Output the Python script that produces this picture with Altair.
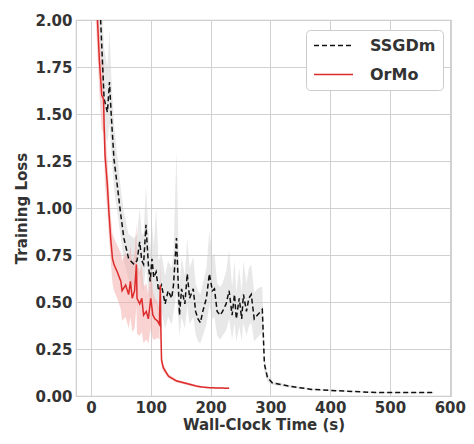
import altair as alt
import pandas as pd

# SSGDm (black dashed) mean and band
ss_x = [12, 22, 27.5, 31, 34, 38.5, 44, 50, 55, 63, 72, 77, 81.5, 85, 88, 92, 96, 99, 102, 105,
        109, 113, 118, 124, 129, 135, 138, 143, 148, 151.5, 157, 161, 165, 171, 175, 179, 183, 187,
        193, 198, 203, 206.5, 211, 216, 220, 226, 231, 236, 240, 243, 248, 252, 255, 260, 264, 268,
        273, 278, 284, 286.5, 288, 290, 295, 303, 330, 369, 424, 479, 573]
ss_y = [2.30, 1.58, 1.51, 1.67, 1.49, 1.26, 1.12, 0.96, 0.84, 0.73, 0.70, 0.72, 0.82, 0.72, 0.70, 0.91, 0.70, 0.61, 0.73, 0.63,
        0.66, 0.56, 0.59, 0.49, 0.56, 0.52, 0.59, 0.84, 0.43, 0.57, 0.49, 0.65, 0.52, 0.57, 0.45, 0.41, 0.39, 0.45,
        0.52, 0.65, 0.56, 0.57, 0.45, 0.43, 0.45, 0.49, 0.56, 0.43, 0.54, 0.41, 0.52, 0.41, 0.54, 0.45, 0.52, 0.54,
        0.41, 0.43, 0.45, 0.46, 0.34, 0.17, 0.10, 0.07, 0.053, 0.035, 0.026, 0.018, 0.018]
ss_lo = [2.10, 1.40, 1.35, 1.45, 1.30, 1.10, 0.98, 0.84, 0.72, 0.62, 0.58, 0.60, 0.66, 0.58, 0.56, 0.70, 0.55, 0.47, 0.56, 0.48,
         0.50, 0.42, 0.45, 0.36, 0.42, 0.38, 0.44, 0.55, 0.32, 0.42, 0.36, 0.48, 0.38, 0.42, 0.33, 0.29, 0.28, 0.32,
         0.38, 0.48, 0.41, 0.42, 0.32, 0.30, 0.32, 0.35, 0.41, 0.30, 0.39, 0.29, 0.37, 0.29, 0.39, 0.32, 0.37, 0.39,
         0.29, 0.31, 0.33, 0.34, 0.26, 0.13, 0.08, 0.06, 0.045, 0.030, 0.022, 0.015, 0.015]
ss_hi = [2.50, 1.85, 1.75, 1.95, 1.70, 1.45, 1.28, 1.10, 0.98, 0.86, 0.84, 0.86, 1.00, 0.86, 0.86, 1.12, 0.88, 0.78, 0.92, 0.80,
         1.00, 0.72, 0.76, 0.64, 0.72, 0.68, 0.76, 1.30, 0.58, 0.74, 0.64, 0.84, 0.68, 0.74, 0.60, 0.56, 0.54, 0.60,
         0.68, 0.88, 0.74, 0.76, 0.60, 0.58, 0.60, 0.66, 0.78, 0.58, 0.72, 0.55, 0.68, 0.55, 0.72, 0.60, 0.68, 0.70,
         0.55, 0.57, 0.58, 0.58, 0.42, 0.21, 0.12, 0.08, 0.060, 0.040, 0.030, 0.021, 0.021]

# OrMo (red solid) mean and band
or_x = [8, 14, 18, 21, 22, 23.5, 27.5, 30, 33, 36, 38.5, 44, 50, 52, 58, 63, 66, 69, 73, 76,
        77, 81.5, 85, 88, 92.5, 96, 100, 103.5, 107, 111, 114.5, 116, 117, 118, 121, 129.5, 143, 165,
        176, 185, 198, 231]
or_y = [2.20, 1.79, 1.60, 1.58, 1.44, 1.28, 1.12, 0.98, 0.84, 0.73, 0.70, 0.66, 0.61, 0.56, 0.59, 0.54, 0.61, 0.52, 0.56, 0.70,
        0.52, 0.49, 0.52, 0.43, 0.45, 0.41, 0.52, 0.43, 0.41, 0.40, 0.38, 0.59, 0.34, 0.19, 0.15, 0.106, 0.08, 0.062,
        0.053, 0.048, 0.044, 0.041]
or_lo = [2.00, 1.62, 1.42, 1.40, 1.28, 1.12, 0.98, 0.85, 0.72, 0.60, 0.56, 0.52, 0.46, 0.40, 0.42, 0.36, 0.42, 0.34, 0.36, 0.48,
         0.33, 0.32, 0.34, 0.28, 0.30, 0.28, 0.36, 0.30, 0.30, 0.31, 0.30, 0.45, 0.27, 0.16, 0.13, 0.095, 0.072, 0.055,
         0.047, 0.043, 0.040, 0.037]
or_hi = [2.40, 1.96, 1.78, 1.76, 1.60, 1.44, 1.26, 1.11, 0.96, 0.86, 0.84, 0.80, 0.76, 0.72, 0.76, 0.72, 0.80, 0.70, 0.76, 0.92,
         0.70, 0.66, 0.70, 0.58, 0.60, 0.54, 0.68, 0.56, 0.52, 0.50, 0.46, 0.72, 0.42, 0.22, 0.17, 0.117, 0.088, 0.069,
         0.059, 0.053, 0.048, 0.045]

ss_df = pd.DataFrame({"series": "SSGDm", "x": ss_x, "y": ss_y, "lo": ss_lo, "hi": ss_hi, "ord": list(range(len(ss_x)))})
or_df = pd.DataFrame({"series": "OrMo", "x": or_x, "y": or_y, "lo": or_lo, "hi": or_hi, "ord": list(range(len(or_x)))})
df = pd.concat([ss_df, or_df], ignore_index=True)

font = "DejaVu Sans"
xs = alt.Scale(domain=[-25, 602], nice=False, zero=False)
ys = alt.Scale(domain=[0, 2], nice=False, zero=False)

band_ss = alt.Chart(ss_df).mark_area(color="#cccccc", opacity=0.45, clip=True, interpolate="linear").encode(
    x=alt.X("x:Q", scale=xs), y=alt.Y("lo:Q", scale=ys), y2=alt.Y2("hi:Q"))
band_or = alt.Chart(or_df).mark_area(color="#f4a6a6", opacity=0.5, clip=True, interpolate="linear").encode(
    x=alt.X("x:Q", scale=xs), y=alt.Y("lo:Q", scale=ys), y2=alt.Y2("hi:Q"))

lines = alt.Chart(df).mark_line(strokeWidth=1.5, clip=True).encode(
    x=alt.X("x:Q", scale=xs, title="Wall-Clock Time (s)",
            axis=alt.Axis(values=[0, 100, 200, 300, 400, 500, 600], labelPadding=4, titlePadding=2)),
    y=alt.Y("y:Q", scale=ys, title="Training Loss",
            axis=alt.Axis(values=[0, 0.25, 0.5, 0.75, 1.0, 1.25, 1.5, 1.75, 2.0], format=".2f",
                          labelPadding=4, titlePadding=5)),
    color=alt.Color("series:N", scale=alt.Scale(domain=["SSGDm", "OrMo"], range=["#111111", "#dd2a2a"]),
                    legend=alt.Legend(title=None, orient="none", legendX=230, legendY=10,
                                      symbolType="M-2.6,0H2.6", symbolSize=225, symbolStrokeWidth=1.5,
                                      symbolOffset=12,
                                      labelFontSize=16, labelFont=font, labelFontWeight="bold",
                                      labelColor="#333333", padding=7, rowPadding=12,
                                      strokeColor="#cccccc", fillColor="white", cornerRadius=4,
                                      labelOffset=28)),
    strokeDash=alt.StrokeDash("series:N", scale=alt.Scale(domain=["SSGDm", "OrMo"], range=[[5, 3], [1, 0]]),
                              legend=None),
    detail="series:N",
    order="ord:Q",
)

chart = alt.layer(band_ss, band_or, lines).properties(
    width=375, height=376,
    autosize=alt.AutoSizeParams(type="none"),
    padding={"left": 68, "top": 12, "right": 15, "bottom": 38},
).configure_axis(
    grid=True, gridColor="#d0d0d0", gridWidth=1, domain=False, ticks=False,
    labelFont=font, labelFontWeight="bold", labelFontSize=15, labelColor="#333333",
    titleFont=font, titleFontWeight="bold", titleFontSize=15, titleColor="#333333",
).configure_view(stroke="#cccccc", strokeWidth=1.2)

chart.save("out.html", embed_options={"renderer": "svg", "actions": False})
